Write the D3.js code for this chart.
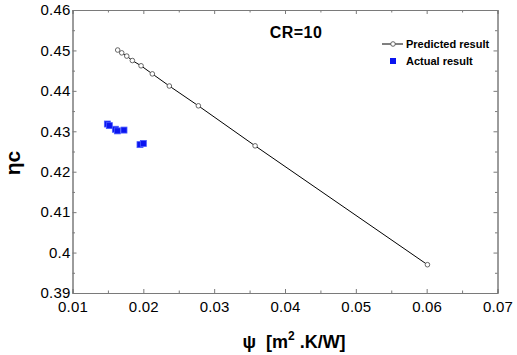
<!DOCTYPE html>
<html><head><meta charset="utf-8">
<script src="https://cdn.jsdelivr.net/npm/d3@7"></script>
<style>body{margin:0;background:#fff}svg{display:block}text{font-family:"Liberation Sans",Arial,sans-serif}</style>
</head><body>
<script>
const predX = [0.01638,0.01695,0.01766,0.01845,0.01968,0.02127,0.02367,0.02777,0.03578,0.06011];
const predY = [0.4501,0.4494,0.4486,0.4475,0.4462,0.4442,0.4412,0.4363,0.4264,0.3970];
const actX = [0.01492,0.0152,0.01605,0.01633,0.01727,0.01953,0.0200];
const actY = [0.4318,0.4314,0.4305,0.4301,0.4303,0.4267,0.4270];
const xTicks = [0.01,0.02,0.03,0.04,0.05,0.06,0.07];
const xTickLabels = ["0.01","0.02","0.03","0.04","0.05","0.06","0.07"];
const yTicks = [0.39,0.40,0.41,0.42,0.43,0.44,0.45,0.46];
const yTickLabels = ["0.39","0.4","0.41","0.42","0.43","0.44","0.45","0.46"];
const legendNames = ["Predicted result","Actual result"];

const W=517,H=355;
const L=72.5,R=497.5,T=10,B=293;
const svg=d3.select("body").append("svg").attr("width",W).attr("height",H);
const x=d3.scaleLinear().domain([0.01,0.07]).range([L,R]);
const y=d3.scaleLinear().domain([0.39,0.46]).range([B,T]);
const frame="#7a7a7a";
const xMinor=d3.range(0.015,0.07,0.01), yMinor=d3.range(0.395,0.46,0.01);

const gx=svg.append("g").attr("transform",`translate(0,${B})`)
  .call(d3.axisBottom(x).tickValues(xTicks).tickSize(-4).tickPadding(8).tickFormat((d,i)=>xTickLabels[i]));
const gxm=svg.append("g").attr("transform",`translate(0,${B})`).call(d3.axisBottom(x).tickValues(xMinor).tickSize(-2.5).tickFormat(""));
const gxt=svg.append("g").attr("transform",`translate(0,${T})`).call(d3.axisTop(x).tickValues(xTicks).tickSize(-4).tickFormat(""));
const gxtm=svg.append("g").attr("transform",`translate(0,${T})`).call(d3.axisTop(x).tickValues(xMinor).tickSize(-2.5).tickFormat(""));
const gy=svg.append("g").attr("transform",`translate(${L},0)`)
  .call(d3.axisLeft(y).tickValues(yTicks).tickSize(-4).tickPadding(2).tickFormat((d,i)=>yTickLabels[i]));
const gym=svg.append("g").attr("transform",`translate(${L},0)`).call(d3.axisLeft(y).tickValues(yMinor).tickSize(-2.5).tickFormat(""));
const gyr=svg.append("g").attr("transform",`translate(${R},0)`).call(d3.axisRight(y).tickValues(yTicks).tickSize(-4).tickFormat(""));
const gyrm=svg.append("g").attr("transform",`translate(${R},0)`).call(d3.axisRight(y).tickValues(yMinor).tickSize(-2.5).tickFormat(""));
[gx,gxm,gxt,gxtm,gy,gym,gyr,gyrm].forEach(g=>{
  g.selectAll("path,line").attr("stroke",frame).attr("stroke-width",1);
  g.selectAll("text").attr("fill","#000").style("font-size","15px").style("letter-spacing","0.2px");
});
gx.selectAll("text").attr("dy","0.71em");

const line=d3.line().x((d,i)=>x(predX[i])).y((d,i)=>y(predY[i]));
svg.append("path").datum(predX).attr("d",line).attr("fill","none").attr("stroke","#000").attr("stroke-width",1);
svg.selectAll("circle.p").data(predX).enter().append("circle")
  .attr("cx",(d,i)=>x(predX[i])).attr("cy",(d,i)=>y(predY[i])).attr("r",2.3)
  .attr("fill","#fff").attr("stroke","#555").attr("stroke-width",0.9);

svg.selectAll("rect.a").data(actX).enter().append("rect")
  .attr("x",(d,i)=>x(actX[i])-3).attr("y",(d,i)=>y(actY[i])-3).attr("width",6).attr("height",6)
  .attr("fill","#0a14f0").attr("stroke","#4a5cff").attr("stroke-width",0.8);

svg.append("text").attr("x",296).attr("y",38).attr("text-anchor","middle")
  .style("font-size","16px").style("font-weight","bold").style("letter-spacing","0.5px").text("CR=10");

svg.append("line").attr("x1",382).attr("x2",403).attr("y1",44).attr("y2",44).attr("stroke","#000");
svg.append("circle").attr("cx",393).attr("cy",44).attr("r",2.3).attr("fill","#fff").attr("stroke","#555").attr("stroke-width",0.9);
svg.append("text").attr("x",406).attr("y",48).style("font-size","11px").style("font-weight","bold").text(legendNames[0]);
svg.append("rect").attr("x",390).attr("y",58).attr("width",6).attr("height",6).attr("fill","#0a14f0");
svg.append("text").attr("x",406).attr("y",65).style("font-size","11px").style("font-weight","bold").text(legendNames[1]);

svg.append("text").attr("x",294).attr("y",348).attr("text-anchor","middle")
  .style("font-size","18px").style("font-weight","bold")
  .html('ψ&#160;&#160;[m<tspan dy="-8" style="font-size:12px">2</tspan><tspan dy="8"> .K/W]</tspan>');
svg.append("text").attr("transform","translate(20,163) rotate(-90)").attr("text-anchor","middle")
  .style("font-size","21px").style("font-weight","bold").text("ηc");
</script>
</body></html>
